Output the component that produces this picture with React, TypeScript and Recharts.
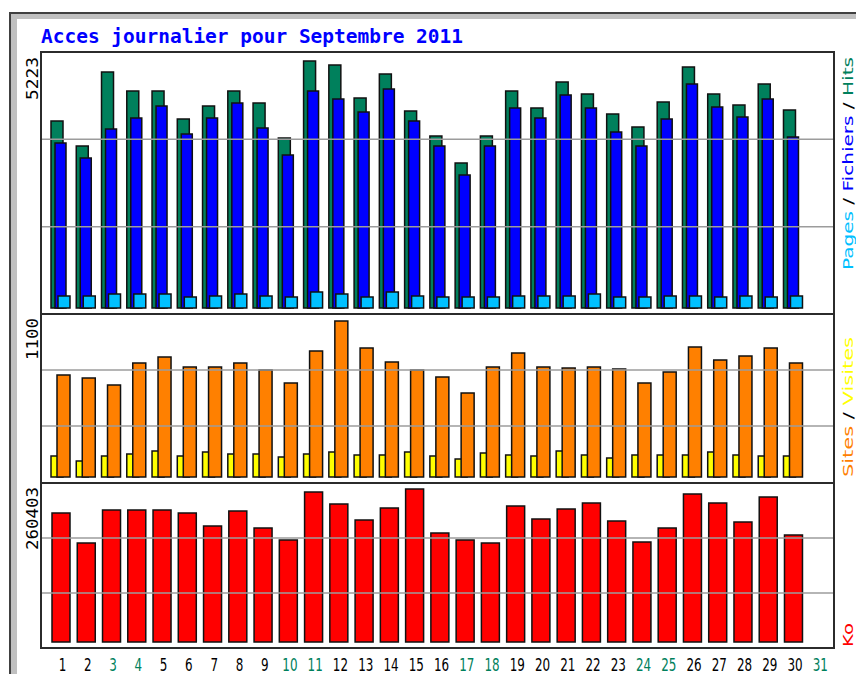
import React from "react";
import { BarChart, Bar, XAxis, YAxis, ReferenceLine } from "recharts";

// Webalizer-style daily stats, September 2011
const days = Array.from({ length: 31 }, (_, i) => String(i + 1));
const weekendDays = [3, 4, 10, 11, 17, 18, 24, 25, 31];

const hits = [
  3953, 3425, 4989, 4587, 4587, 3995, 4270, 4587, 4334, 3594, 5223, 5137, 4439, 4947, 4165,
  3636, 3065, 3636, 4587, 4228, 4778, 4524, 4101, 3826, 4355, 5095, 4524, 4291, 4735, 4186,
];
const fichiers = [
  3488, 3171, 3784, 4017, 4270, 3678, 4017, 4334, 3805, 3234, 4587, 4418, 4143, 4630, 3953,
  3425, 2812, 3425, 4228, 4017, 4503, 4228, 3721, 3425, 3995, 4735, 4249, 4038, 4418, 3615,
];
const pages = [
  254, 254, 296, 296, 296, 233, 254, 296, 254, 233, 338, 296, 233, 338, 254,
  233, 233, 233, 254, 254, 254, 296, 233, 233, 254, 254, 233, 254, 233, 254,
];
const sites = [
  719, 698, 649, 804, 846, 776, 776, 804, 754, 663, 888, 1100, 909, 811, 754,
  705, 592, 776, 874, 776, 768, 776, 761, 663, 740, 917, 825, 853, 909, 804,
];
const visites = [
  148, 113, 148, 162, 183, 148, 176, 162, 162, 141, 162, 176, 155, 155, 176,
  148, 127, 169, 155, 148, 183, 155, 134, 155, 155, 155, 176, 155, 148, 148,
];
const ko = [
  219558, 168498, 224664, 224664, 224664, 219558, 197432, 222962, 194028, 173604, 255300,
  234876, 207644, 228068, 260403, 185518, 173604, 168498, 231472, 209346, 226366, 236578,
  205942, 170200, 194028, 251896, 236578, 204240, 246790, 182114,
];

const chartData = days.map((day, i) => ({
  day,
  hits: hits[i] ?? null,
  fichiers: fichiers[i] ?? null,
  pages: pages[i] ?? null,
  sites: sites[i] ?? null,
  visites: visites[i] ?? null,
  ko: ko[i] ?? null,
}));

const FRAME_LEFT = 41;
const FRAME_W = 793;
const PAD = { left: 7, right: 3 };
const GRID = "#9c9c9c";
const LINE = "#2b2b2b";

// domain spans the whole frame; bars sit on 0, a few px above the frame bottom
const thirds = (d: number[]) => [d[0] + (d[1] - d[0]) / 3, d[0] + (2 * (d[1] - d[0])) / 3];

const topDomain = [-127, 5412];
const midDomain = [-35, 1149];
const botDomain = [-10212, 270618];

const DayTick = (props: any) => {
  const { x, y, payload } = props;
  const v = String(payload.value);
  const weekend = weekendDays.includes(Number(v));
  return (
    <text
      x={x + 2}
      y={y + 15}
      textAnchor="middle"
      fontFamily="DejaVu Sans"
      fontSize={17}
      fill={weekend ? "#00805c" : "#000"}
      textLength={v.length * 7.6}
      lengthAdjust="spacingAndGlyphs"
    >
      {v}
    </text>
  );
};

const hLine = (top: number) => (
  <div
    style={{
      position: "absolute",
      left: FRAME_LEFT - 1,
      top: top - 1,
      width: FRAME_W + 2,
      height: 2,
      background: LINE,
    }}
  />
);

export default function App() {
  return (
    <div
      style={{
        position: "absolute",
        left: 0,
        top: 0,
        width: 856,
        height: 674,
        background: "#fff",
        overflow: "hidden",
      }}
    >
      {/* outer webalizer image frame */}
      <div
        style={{
          position: "absolute",
          left: 9,
          top: 12,
          width: 900,
          height: 700,
          background: "#c0c0c0",
          borderTop: "2px solid #404040",
          borderLeft: "2px solid #404040",
        }}
      />
      <div style={{ position: "absolute", left: 17, top: 19, width: 900, height: 700, background: "#fff" }} />

      {/* Pages / Fichiers / Hits */}
      <div style={{ position: "absolute", left: FRAME_LEFT, top: 52 }}>
        <BarChart
          width={FRAME_W}
          height={262}
          data={chartData}
          margin={{ top: 0, right: 0, bottom: 0, left: 0 }}
          barGap={-8}
        >
          <XAxis dataKey="day" hide padding={PAD} />
          <YAxis hide type="number" domain={topDomain} allowDataOverflow />
          {thirds(topDomain).map((g) => (
            <ReferenceLine key={g} y={g} stroke={GRID} strokeWidth={1.5} />
          ))}
          <Bar dataKey="hits" barSize={12} fill="#00805c" stroke="#111" strokeWidth={1.5} isAnimationActive={false} />
          <Bar dataKey="fichiers" barSize={11} fill="#0000ff" stroke="#111" strokeWidth={1.5} isAnimationActive={false} />
          <Bar dataKey="pages" barSize={12} fill="#00c0ff" stroke="#111" strokeWidth={1.5} isAnimationActive={false} />
        </BarChart>
      </div>

      {/* Sites / Visites */}
      <div style={{ position: "absolute", left: FRAME_LEFT, top: 314 }}>
        <BarChart
          width={FRAME_W}
          height={168}
          data={chartData}
          margin={{ top: 0, right: 0, bottom: 0, left: 0 }}
          barGap={-6}
        >
          <XAxis dataKey="day" hide padding={PAD} />
          <YAxis hide type="number" domain={midDomain} allowDataOverflow />
          {thirds(midDomain).map((g) => (
            <ReferenceLine key={g} y={g} stroke={GRID} strokeWidth={1.5} />
          ))}
          <Bar dataKey="visites" barSize={12} fill="#ffff00" stroke="#111" strokeWidth={1.5} isAnimationActive={false} />
          <Bar dataKey="sites" barSize={13} fill="#ff8000" stroke="#111" strokeWidth={1.5} isAnimationActive={false} />
        </BarChart>
      </div>

      {/* Ko */}
      <div style={{ position: "absolute", left: FRAME_LEFT, top: 483 }}>
        <BarChart
          width={FRAME_W}
          height={191}
          data={chartData}
          margin={{ top: 0, right: 0, bottom: 0, left: 0 }}
        >
          <XAxis
            dataKey="day"
            padding={PAD}
            height={26}
            axisLine={false}
            tickLine={false}
            interval={0}
            tick={<DayTick />}
          />
          <YAxis hide type="number" domain={botDomain} allowDataOverflow />
          {thirds(botDomain).map((g) => (
            <ReferenceLine key={g} y={g} stroke={GRID} strokeWidth={1.5} />
          ))}
          <Bar dataKey="ko" barSize={18} fill="#ff0000" stroke="#111" strokeWidth={1.5} isAnimationActive={false} />
        </BarChart>
      </div>

      {/* panel frames */}
      {hLine(52)}
      {hLine(314)}
      {hLine(483)}
      {hLine(648)}
      <div style={{ position: "absolute", left: FRAME_LEFT - 1, top: 51, width: 2, height: 598, background: LINE }} />
      <div style={{ position: "absolute", left: FRAME_LEFT + FRAME_W - 1, top: 51, width: 2, height: 598, background: LINE }} />

      <svg width={856} height={674} style={{ position: "absolute", left: 0, top: 0, pointerEvents: "none" }}>
        <text
          x={41}
          y={43}
          fontFamily="DejaVu Sans Mono"
          fontWeight="bold"
          fontSize={19}
          fill="#0000ff"
          textLength={422}
          lengthAdjust="spacingAndGlyphs"
        >
          Acces journalier pour Septembre 2011
        </text>

        {/* max values, left */}
        <g fontFamily="DejaVu Sans Mono" fontSize={16} fill="#000">
          <text transform="translate(38,57) rotate(-90)" textAnchor="end" textLength={43} lengthAdjust="spacingAndGlyphs">
            5223
          </text>
          <text transform="translate(38,318) rotate(-90)" textAnchor="end" textLength={42} lengthAdjust="spacingAndGlyphs">
            1100
          </text>
          <text transform="translate(38,487) rotate(-90)" textAnchor="end" textLength={63} lengthAdjust="spacingAndGlyphs">
            260403
          </text>
        </g>

        {/* series labels, right */}
        <g fontFamily="DejaVu Sans" fontSize={14}>
          <text transform="translate(853,270) rotate(-90)" textLength={213} lengthAdjust="spacingAndGlyphs">
            <tspan fill="#00c0ff">Pages</tspan>
            <tspan fill="#000"> / </tspan>
            <tspan fill="#0000ff">Fichiers</tspan>
            <tspan fill="#000"> / </tspan>
            <tspan fill="#00805c">Hits</tspan>
          </text>
          <text transform="translate(853,477) rotate(-90)" textLength={140} lengthAdjust="spacingAndGlyphs">
            <tspan fill="#ff8000">Sites</tspan>
            <tspan fill="#000"> / </tspan>
            <tspan fill="#ffff00">Visites</tspan>
          </text>
          <text transform="translate(853,647) rotate(-90)" textLength={24} lengthAdjust="spacingAndGlyphs" fill="#ff0000">
            Ko
          </text>
        </g>
      </svg>
    </div>
  );
}
